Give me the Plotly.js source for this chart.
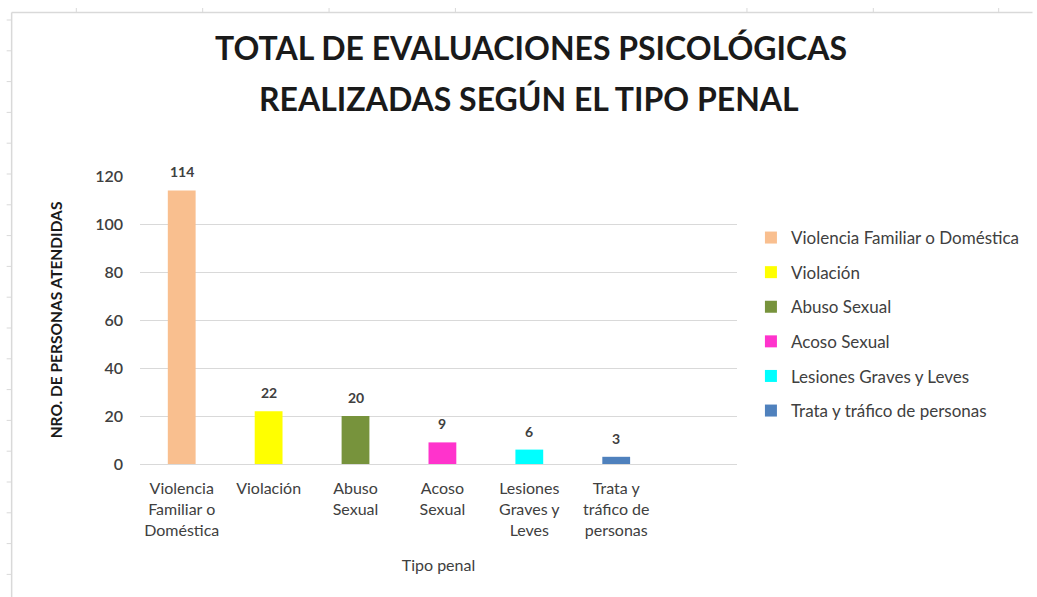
<!DOCTYPE html>
<html>
<head>
<meta charset="utf-8">
<script src="https://cdn.plot.ly/plotly-3.0.1.min.js"></script>
<style>html,body{margin:0;padding:0;background:#fff;}#chart{width:1037px;height:597px;}</style>
</head>
<body>
<div id="chart"></div>
<script>
const categories = ["Violencia Familiar o Doméstica", "Violación", "Abuso Sexual", "Acoso Sexual", "Lesiones Graves y Leves", "Trata y tráfico de personas"];
const tickLabels = ["Violencia<br>Familiar o<br>Doméstica", "Violación", "Abuso<br>Sexual", "Acoso<br>Sexual", "Lesiones<br>Graves y<br>Leves", "Trata y<br>tráfico de<br>personas"];
const values = [114, 22, 20, 9, 6, 3];
const colors = ["#F9BF8F", "#FFFF00", "#77933C", "#FF33CC", "#00FFFF", "#4F81BD"];
const yTicks = [0, 20, 40, 60, 80, 100, 120];
const titleLines = ["TOTAL DE EVALUACIONES PSICOLÓGICAS", "REALIZADAS SEGÚN EL TIPO PENAL"];

const W = 1037, H = 597;
const M = {l: 140, r: 297, t: 176, b: 133};
const FONT = "Lato, 'Open Sans', sans-serif";
const TXT = "#404040";
const DARK = "#1a1a1a";

const traces = categories.map((c, i) => ({
  type: "bar",
  name: c,
  x: [i],
  y: [values[i]],
  width: 0.32,
  marker: {color: colors[i]},
  legendgroup: "g" + i,
  hoverinfo: "name+y"
}));

function px(x) { return (x - M.l) / (W - M.l - M.r); }
function py(y) { return 1 - (y - M.t) / (H - M.t - M.b); }

const annotations = values.map((v, i) => ({
  x: i, y: v, xref: "x", yref: "y",
  text: String(v), showarrow: false,
  yanchor: "bottom", yshift: 8,
  font: {family: FONT, size: 14, color: TXT, weight: "bold"}
}));
// second title line
annotations.push({
  xref: "paper", yref: "paper", x: px(531), y: py(98), xanchor: "center", yanchor: "middle",
  text: titleLines[1], showarrow: false,
  font: {family: FONT, size: 32, color: DARK, weight: "bold"}
});

// decorative spreadsheet frame around the chart
const frameColor = "#d9d9d9";
const shapes = [
  {type: "line", xref: "paper", yref: "paper", x0: px(11), x1: px(W), y0: py(12.5), y1: py(12.5), line: {color: frameColor, width: 1.5}},
  {type: "line", xref: "paper", yref: "paper", x0: px(11), x1: px(11), y0: py(12.5), y1: py(H), line: {color: frameColor, width: 1.5}}
];
[76, 203, 330, 457, 750, 877, 1003].forEach(x => shapes.push({type: "line", xref: "paper", yref: "paper", x0: px(x), x1: px(x), y0: py(8), y1: py(12.5), line: {color: frameColor, width: 1}}));
for (let k = 0; k < 19; k++) {
  const y = 20 + 30.8 * k;
  shapes.push({type: "line", xref: "paper", yref: "paper", x0: px(6), x1: px(11), y0: py(y), y1: py(y), line: {color: frameColor, width: 1}});
}

const layout = {
  width: W, height: H,
  margin: M,
  paper_bgcolor: "#fff", plot_bgcolor: "#fff",
  font: {family: FONT, color: TXT},
  showlegend: true,
  barmode: "overlay",
  title: {
    text: titleLines[0],
    font: {family: FONT, size: 32, color: DARK, weight: "bold"},
    x: 531 / W, xanchor: "center", y: 1 - 49 / H, yanchor: "middle", yref: "container"
  },
  xaxis: {
    tickmode: "array", tickvals: categories.map((c, i) => i), ticktext: tickLabels,
    range: [-0.48, 6.39],
    showgrid: false, zeroline: false,
    showline: true, linecolor: "#d9d9d9", linewidth: 1,
    ticks: "", ticklabelstandoff: 10,
    tickfont: {family: FONT, size: 16, color: TXT},
    title: {text: "Tipo penal", font: {family: FONT, size: 16, color: TXT}, standoff: 22}
  },
  yaxis: {
    range: [0, 120], tickvals: yTicks,
    showgrid: true, gridcolor: "#d9d9d9", gridwidth: 1,
    zeroline: false, showline: false, ticks: "",
    ticklabelstandoff: 16,
    tickfont: {family: FONT, size: 16, color: TXT, weight: 600},
    title: {text: "NRO. DE PERSONAS ATENDIDAS", font: {family: FONT, size: 15.5, color: DARK, weight: "bold"}, standoff: 28}
  },
  legend: {
    x: px(754), xanchor: "left", y: py(220), yanchor: "top",
    font: {family: FONT, size: 17, color: TXT},
    tracegroupgap: 9.5, bgcolor: "rgba(0,0,0,0)"
  },
  annotations: annotations,
  shapes: shapes
};

Plotly.newPlot("chart", traces, layout, {displayModeBar: false, staticPlot: true});
</script>
</body>
</html>
